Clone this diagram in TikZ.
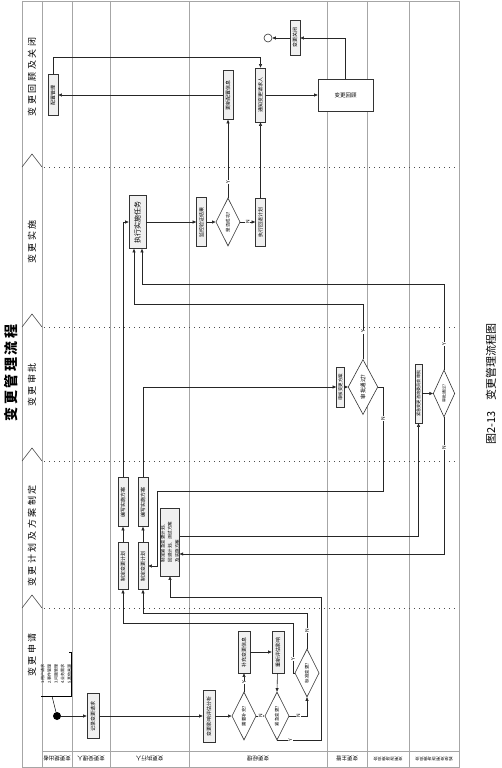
\documentclass[tikz,border=0pt]{standalone}
\usepackage{graphicx}
\usepackage{fontspec}
\setmainfont{Noto Sans CJK SC}
\newfontfamily\phfont[LetterSpace=28]{Noto Sans CJK SC}
\newfontfamily\ttlfont[LetterSpace=18]{Noto Sans CJK SC}
\usetikzlibrary{arrows.meta,positioning,shapes.geometric}
\newcommand{\vt}[1]{\rotatebox{90}{#1}}

\begin{document}
\begin{tikzpicture}[x=1pt, y=-1pt,
    bx/.style={draw=black!80, line width=0.7pt, fill=gray!12, inner sep=0pt, font=\fontsize{5}{6}\selectfont},
    dm/.style={diamond, draw=black!80, line width=0.6pt, fill=white, inner sep=0pt, font=\fontsize{4.5}{5}\selectfont},
    sz/.style 2 args={minimum width=#1pt, minimum height=#2pt},
    arr/.style={-{Triangle[length=3.5pt, width=3pt]}, line width=0.6pt, draw=black!85},
    lbl/.style={rotate=90, fill=white, inner sep=0.6pt, font=\fontsize{5}{5}\selectfont},
    lane/.style={draw=gray!70, line width=0.6pt},
    dotline/.style={line width=0.9pt, dash pattern=on 1pt off 4pt, draw=black!70},
    ph/.style={rotate=90, font=\phfont\fontsize{9}{10}\selectfont},
    who/.style={rotate=180, font=\fontsize{5.5}{6}\selectfont}]
  \path[use as bounding box, fill=white] (0,0) rectangle (501,768);

  % swimlanes and phase borders
  \foreach \x in {22,42,72.5,110,189,327,367,409,459.5}
    \draw[lane] (\x,1) -- (\x,767);
  \draw[lane] (22,1) -- (459.5,1);
  \draw[lane] (22,767) -- (459.5,767);
  \draw[lane] (42,751) -- (459.5,751);
  \foreach \y in {167,327,461,608} {
    \draw[dotline] (44,\y) -- (457,\y);
    \draw[draw=black!70, line width=0.6pt] (22,\y) -- (32,\y-13) -- (42,\y);
  }

  % titles
  \node[rotate=90, font=\ttlfont\bfseries\fontsize{14}{16}\selectfont] (title) at (11,373) {变更管理流程};
  \node[rotate=90, font=\fontsize{11}{12}\selectfont] (cap) at (491,384) {图2-13\hspace{1em}变更管理流程图};
  \node[ph] (p1) at (32,77) {变更回顾及关闭};
  \node[ph] (p2) at (32,242) {变更实施};
  \node[ph] (p3) at (32,385) {变更审批};
  \node[ph] (p4) at (32,536) {变更计划及方案制定};
  \node[ph] (p5) at (32,655) {变更申请};

  % lane names
  \foreach \x/\t/\n in {57/变更提出者/w1, 91/变更受理人/w2, 149.5/变更执行人/w3, 258/变更经理/w4, 347/变更主管/w5}
    \node[who] (\n) at (\x,759) {\t};
  \node[who, font=\fontsize{4.2}{5}\selectfont] (w6) at (388,759) {变更咨询委员会};
  \node[who, font=\fontsize{4.2}{5}\selectfont] (w7) at (434,759) {紧急变更咨询委员会};

  % request
  \node[circle, fill=black, minimum size=8pt, inner sep=0pt] (start) at (57,716) {};
  \node[inner sep=0pt, sz={26}{44}, font=\fontsize{4}{5}\selectfont] (note) at (56,674)
    {\vt{\shortstack[l]{1.用户请求\\2.事件管理\\3.问题管理\\4.业务需求\\5.其他来源}}};
  \draw[line width=0.5pt] ([xshift=-2pt]note.north east) -- (note.north east) -- (note.south east) -- (note.south west);
  \draw[line width=0.5pt] (start) -- ([xshift=-4pt]note.south);
  \node[bx, sz={12}{45}] (record) at (93,716) {\vt{记录变更请求}};
  \node[bx, sz={12}{52}] (assess) at (209,716) {\vt{变更影响评估分析}};
  \node[dm, sz={16}{48}] (d1) at (244,716) {\vt{需要补充?}};
  \node[bx, sz={12}{42}] (addA) at (244,652) {\vt{补充变更信息}};
  \node[bx, sz={12}{42}] (addB) at (278,652) {\vt{重新评估影响}};
  \node[dm, sz={18}{48}] (d2) at (277,716) {\vt{紧急变更?}};
  \node[dm, sz={16}{48}] (d3) at (307,673) {\vt{标准变更?}};

  % plan
  \node[bx, sz={10}{47}] (plan1) at (123,566) {\vt{制定变更计划}};
  \node[bx, sz={10}{49}] (sol1) at (123,502) {\vt{编写实施方案}};
  \node[bx, sz={10}{47}] (plan2) at (143,566) {\vt{制定变更计划}};
  \node[bx, sz={10}{49}] (sol2) at (143,502) {\vt{编写实施方案}};
  \node[bx, sz={15}{68}, font=\fontsize{4.5}{5}\selectfont] (big) at (170,542)
    {\vt{\shortstack[l]{制定紧急变更计划、\\回退计划、测试方案\\及实施方案}}};

  % approval
  \node[bx, sz={8}{40}, font=\fontsize{4.5}{5}\selectfont] (audit) at (340.5,387) {\vt{审核变更方案}};
  \node[dm, sz={22}{55}, font=\fontsize{5.5}{6}\selectfont] (d4) at (363,387) {\vt{审批通过?}};
  \node[bx, sz={7}{59}, font=\fontsize{4.2}{5}\selectfont] (ecab) at (418.5,393.5) {\vt{紧急变更咨询委员会审批}};
  \node[dm, sz={14}{47}, font=\fontsize{4}{5}\selectfont] (d5) at (444,393.5) {\vt{审批通过?}};

  % implementation
  \node[bx, sz={17}{53}, font=\fontsize{7}{8}\selectfont] (exec) at (137.5,222) {\vt{执行实施任务}};
  \node[bx, sz={10}{49}] (monitor) at (201.5,222) {\vt{监控验证结果}};
  \node[dm, sz={16}{48}] (d6) at (228,222) {\vt{是否成功?}};
  \node[bx, sz={10}{48}] (rollback) at (260.5,222) {\vt{执行回退计划}};

  % review and close
  \node[bx, sz={10}{49}] (update) at (228,95) {\vt{更新配置信息}};
  \node[bx, sz={10}{41}] (cfg) at (53,95) {\vt{配置管理}};
  \node[bx, sz={10}{54}] (notify) at (260.5,95) {\vt{通知变更请求人}};
  \node[bx, fill=white, line width=0.6pt, sz={55}{32}, font=\fontsize{5.5}{6}\selectfont] (review) at (345.5,95) {变更回顾};
  \node[bx, sz={10}{35}] (close) at (295,38) {\vt{变更关闭}};
  \node[circle, draw=black!80, fill=white, line width=0.6pt, minimum size=8pt, inner sep=0pt] (stop) at (268,38) {};

  % bends
  \coordinate (yEm) at (321,597);
  \coordinate (yStd) at (293,623);
  \coordinate (nNorm) at (307,613);
  \coordinate (nRej) at (383,491);
  \coordinate (nBack) at (157,491);
  \coordinate (yAp) at (363,304);
  \coordinate (yEc) at (444,284);
  \coordinate (cfgUp) at (53,57);

  % connectors
  \draw[arr] (start) -- (record);
  \draw[arr] (record) -- (assess);
  \draw[arr] (assess) -- (d1);
  \draw[arr] (d1.north) -- node[lbl] {Y} (addA);
  \draw[arr] (d1.east) -- node[lbl] {N} (d2.west);
  \draw[arr] (addA) -- (addB);
  \draw[arr] (addB) -- (d2.north);
  \draw[arr] (d2.east) -| node[lbl, pos=0.25] {N} (d3.south);
  \draw[arr] (d2.south) -| node[lbl, pos=0.15] {Y} (yEm) -| (big.south);
  \draw[arr] (d3.west) -| node[lbl, pos=0.64] {Y} (yStd) -| (plan1.south);
  \draw[arr] (d3.north) -- node[lbl] {N} (nNorm) -| (plan2.south);
  \draw[arr] (plan1) -- (sol1);
  \draw[arr] (plan2) -- (sol2);
  \draw[arr] (sol1.north) |- (exec.west);
  \draw[arr] (sol2.north) |- (audit.west);
  \draw[arr] (audit) -- (d4.west);
  \draw[arr] (d4.north) -- node[lbl] {Y} (yAp) -| ([xshift=-3.5pt]exec.south);
  \draw[arr] (d4.east) -| node[lbl, pos=0.65] {N} (nRej) -- (nBack) |- (plan2.east);
  \draw[arr] ([yshift=6pt]big.east) -| (ecab.south);
  \draw[arr] (ecab) -- (d5.west);
  \draw[arr] (d5.north) -- node[lbl, pos=0.3] {Y} (yEc) -| ([xshift=4.5pt]exec.south);
  \draw[arr] (d5.south) |- node[lbl, pos=0.11] {N} ([yshift=-12pt]big.east);
  \draw[arr] (exec) -- (monitor);
  \draw[arr] (monitor) -- (d6.west);
  \draw[arr] (d6.east) -- node[lbl] {N} (rollback);
  \draw[arr] (d6.north) -- node[lbl, pos=0.2] {Y} (update);
  \draw[arr] (rollback) -- (notify);
  \draw[arr] (update) -- (cfg);
  \draw[arr] (cfg.north) -- (cfgUp) -| (notify.north);
  \draw[arr] (notify) -- (review);
  \draw[arr] (review.north) |- (close.east);
  \draw[arr] (close) -- (stop);
\end{tikzpicture}
\end{document}
